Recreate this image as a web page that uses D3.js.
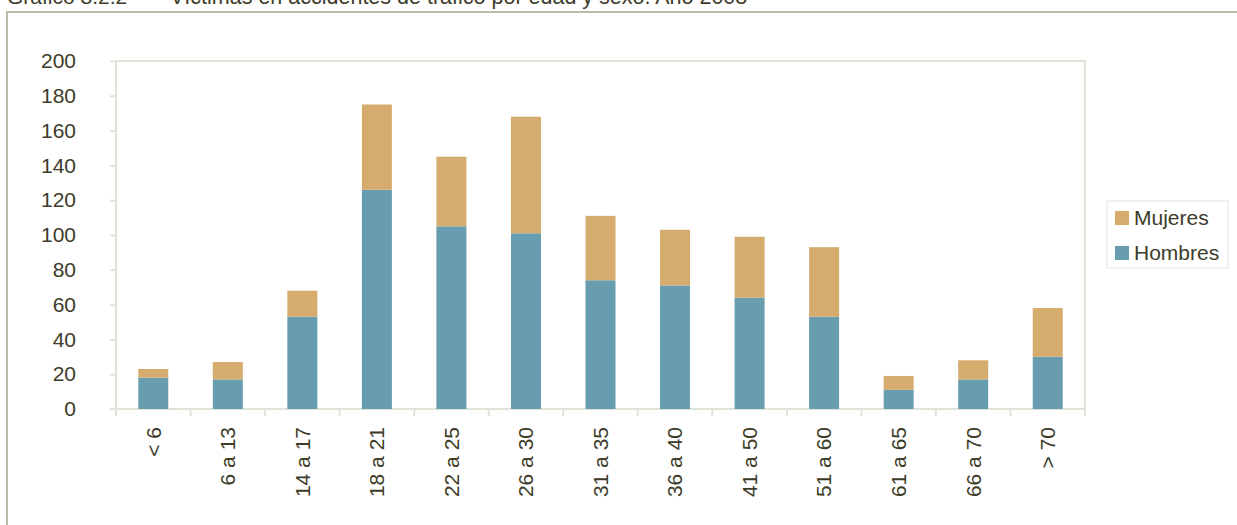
<!DOCTYPE html>
<html>
<head>
<meta charset="utf-8">
<script src="https://cdn.jsdelivr.net/npm/d3@7"></script>
<style>
  body { margin: 0; background: #fff; }
  text { font-family: Arial, "Liberation Sans", sans-serif; fill: #3c3c28; }
</style>
</head>
<body>
<div id="chart"></div>
<script>
// age groups and victims by sex
var ages = ["< 6", "6 a 13", "14 a 17", "18 a 21", "22 a 25", "26 a 30", "31 a 35",
            "36 a 40", "41 a 50", "51 a 60", "61 a 65", "66 a 70", "> 70"];
var hombres = [18, 17, 53, 126, 105, 101, 74, 71, 64, 53, 11, 17, 30];
var mujeres = [5, 10, 15, 49, 40, 67, 37, 32, 35, 40, 8, 11, 28];
var yTicks = [0, 20, 40, 60, 80, 100, 120, 140, 160, 180, 200];
var seriesNames = ["Hombres", "Mujeres"];
var colors = { Hombres: "#689db0", Mujeres: "#d6ac6e" };

var W = 1237, H = 525;
var margin = { top: 61, right: 152, bottom: 116, left: 116 };
var width = W - margin.left - margin.right,
    height = H - margin.top - margin.bottom;
var fs = "21px";

var svg = d3.select("#chart").append("svg")
  .attr("width", W)
  .attr("height", H);

// title, cut off at the top like the original
svg.append("text")
  .attr("x", 7)
  .attr("y", 4)
  .style("font-size", fs)
  .text("Gráfico 8.2.2");
svg.append("text")
  .attr("x", 170)
  .attr("y", 4)
  .style("font-size", "21.5px")
  .text("Víctimas en accidentes de tráfico por edad y sexo. Año 2008");

// outer frame (top + left only)
svg.append("path")
  .attr("d", "M7,525 V12 H1237")
  .attr("fill", "none")
  .attr("stroke", "#b9bca6")
  .attr("stroke-width", 2);

var g = svg.append("g")
  .attr("transform", "translate(" + margin.left + "," + margin.top + ")");

var table = ages.map(function (a, i) {
  return { age: a, Hombres: hombres[i], Mujeres: mujeres[i] };
});
var stacked = d3.stack().keys(seriesNames)(table);

var y = d3.scaleLinear().domain([0, 200]).range([height, 0]);
var xc = d3.scalePoint().domain(ages)
  .range([width / ages.length / 2, width - width / ages.length / 2]);

// plot frame
g.append("rect")
  .attr("x", 0).attr("y", 0)
  .attr("width", width).attr("height", height)
  .attr("fill", "none")
  .attr("stroke", "#dfe4d8")
  .attr("stroke-width", 2);

// y axis
var yAxis = g.append("g")
  .call(d3.axisLeft(y).tickValues(yTicks).tickSize(6).tickPadding(34));
yAxis.select(".domain").remove();
yAxis.selectAll("line").attr("stroke", "#dfe4d8").attr("stroke-width", 2);
yAxis.selectAll("text").style("font-size", fs).attr("fill", "#3c3c28");

// x axis: ticks sit on band boundaries
var bounds = d3.range(ages.length + 1).map(function (i) { return i * width / ages.length; });
g.append("g").selectAll("line")
  .data(bounds)
  .join("line")
  .attr("x1", function (d) { return d; })
  .attr("x2", function (d) { return d; })
  .attr("y1", height)
  .attr("y2", height + 7)
  .attr("stroke", "#dfe4d8")
  .attr("stroke-width", 2);
g.append("line")
  .attr("x1", -6).attr("x2", width)
  .attr("y1", height).attr("y2", height)
  .attr("stroke", "#dfe4d8").attr("stroke-width", 2);

g.append("g").selectAll("text")
  .data(ages)
  .join("text")
  .attr("transform", function (d) { return "translate(" + xc(d) + "," + (height + 18) + ") rotate(-90)"; })
  .attr("text-anchor", "end")
  .attr("dy", "0.35em")
  .style("font-size", fs)
  .text(function (d) { return d; });

// bars
var bw = 30;
g.append("g").selectAll("g")
  .data(stacked)
  .join("g")
  .attr("fill", function (d) { return colors[d.key]; })
  .selectAll("rect")
  .data(function (d) { return d; })
  .join("rect")
  .attr("x", function (d) { return xc(d.data.age) - bw / 2; })
  .attr("y", function (d) { return y(d[1]); })
  .attr("width", bw)
  .attr("height", function (d) { return y(d[0]) - y(d[1]); });

// legend
var lg = svg.append("g").attr("transform", "translate(1107,201)");
lg.append("rect")
  .attr("width", 121).attr("height", 67)
  .attr("fill", "#fff")
  .attr("stroke", "#e2e6de");
var legendItems = ["Mujeres", "Hombres"];
legendItems.forEach(function (name, i) {
  lg.append("rect")
    .attr("x", 8).attr("y", 10 + i * 35)
    .attr("width", 14).attr("height", 14)
    .attr("fill", colors[name]);
  lg.append("text")
    .attr("x", 27).attr("y", 17 + i * 35)
    .attr("dy", "0.35em")
    .style("font-size", fs)
    .text(name);
});
</script>
</body>
</html>
